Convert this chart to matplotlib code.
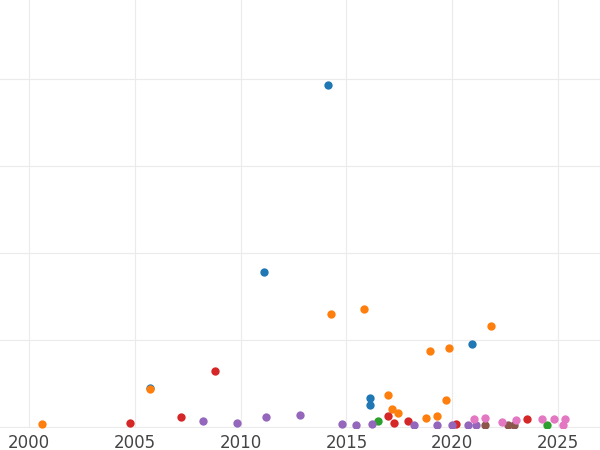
import matplotlib
matplotlib.use("Agg")
import matplotlib.pyplot as plt

blue_x = [2014.13, 2011.1, 2005.72, 2020.94, 2016.12, 2016.12]
blue_y = [393, 178, 45, 95, 33, 25]
orange_x = [2000.61, 2005.72, 2014.27, 2015.83, 2021.83, 2018.95, 2019.85, 2016.97, 2019.71, 2017.15, 2017.44, 2018.76, 2019.28]
orange_y = [3, 44, 130, 136, 116, 87, 91, 37, 31, 21, 16, 10, 13]
red_x = [2004.77, 2008.79, 2007.18, 2016.97, 2017.25, 2017.91, 2020.18, 2023.53]
red_y = [5, 64, 11, 13, 5, 7, 3, 9]
purple_x = [2008.22, 2009.83, 2011.2, 2012.81, 2014.79, 2015.45, 2016.21, 2018.19, 2019.28, 2019.99, 2020.75, 2021.12]
purple_y = [7, 5, 11, 14, 3, 2, 3, 2, 2, 2, 2, 2]
green_x = [2016.49, 2024.48]
green_y = [7, 2]
pink_x = [2021.03, 2021.55, 2022.35, 2023.02, 2024.24, 2024.81, 2025.33, 2025.24]
pink_y = [9, 10, 6, 8, 9, 9, 9, 2]
brown_x = [2021.55, 2022.64, 2022.92]
brown_y = [2, 2, 2]

series = [
    (blue_x, blue_y, "#1f77b4"),
    (orange_x, orange_y, "#ff7f0e"),
    (green_x, green_y, "#2ca02c"),
    (red_x, red_y, "#d62728"),
    (purple_x, purple_y, "#9467bd"),
    (brown_x, brown_y, "#8c564b"),
    (pink_x, pink_y, "#e377c2"),
]

fig = plt.figure(figsize=(6, 4.5), dpi=100)
ax = fig.add_axes([0, 0.049, 1, 0.951])
for xs, ys, c in series:
    ax.scatter(xs, ys, s=36, color=c, zorder=3, linewidths=0)
ax.set_xlim(1998.63, 2026.98)
ax.set_ylim(-1.1, 490.8)
ax.set_xticks([2000, 2005, 2010, 2015, 2020, 2025])
ax.set_yticks([0, 100, 200, 300, 400])
ax.set_yticklabels([])
ax.grid(True, color="#ebebeb", linewidth=0.8)
ax.set_axisbelow(True)
for s in ax.spines.values():
    s.set_visible(False)
ax.tick_params(length=0, labelsize=12, labelcolor="#444444", pad=4)
fig.savefig("out.png", dpi=100)
